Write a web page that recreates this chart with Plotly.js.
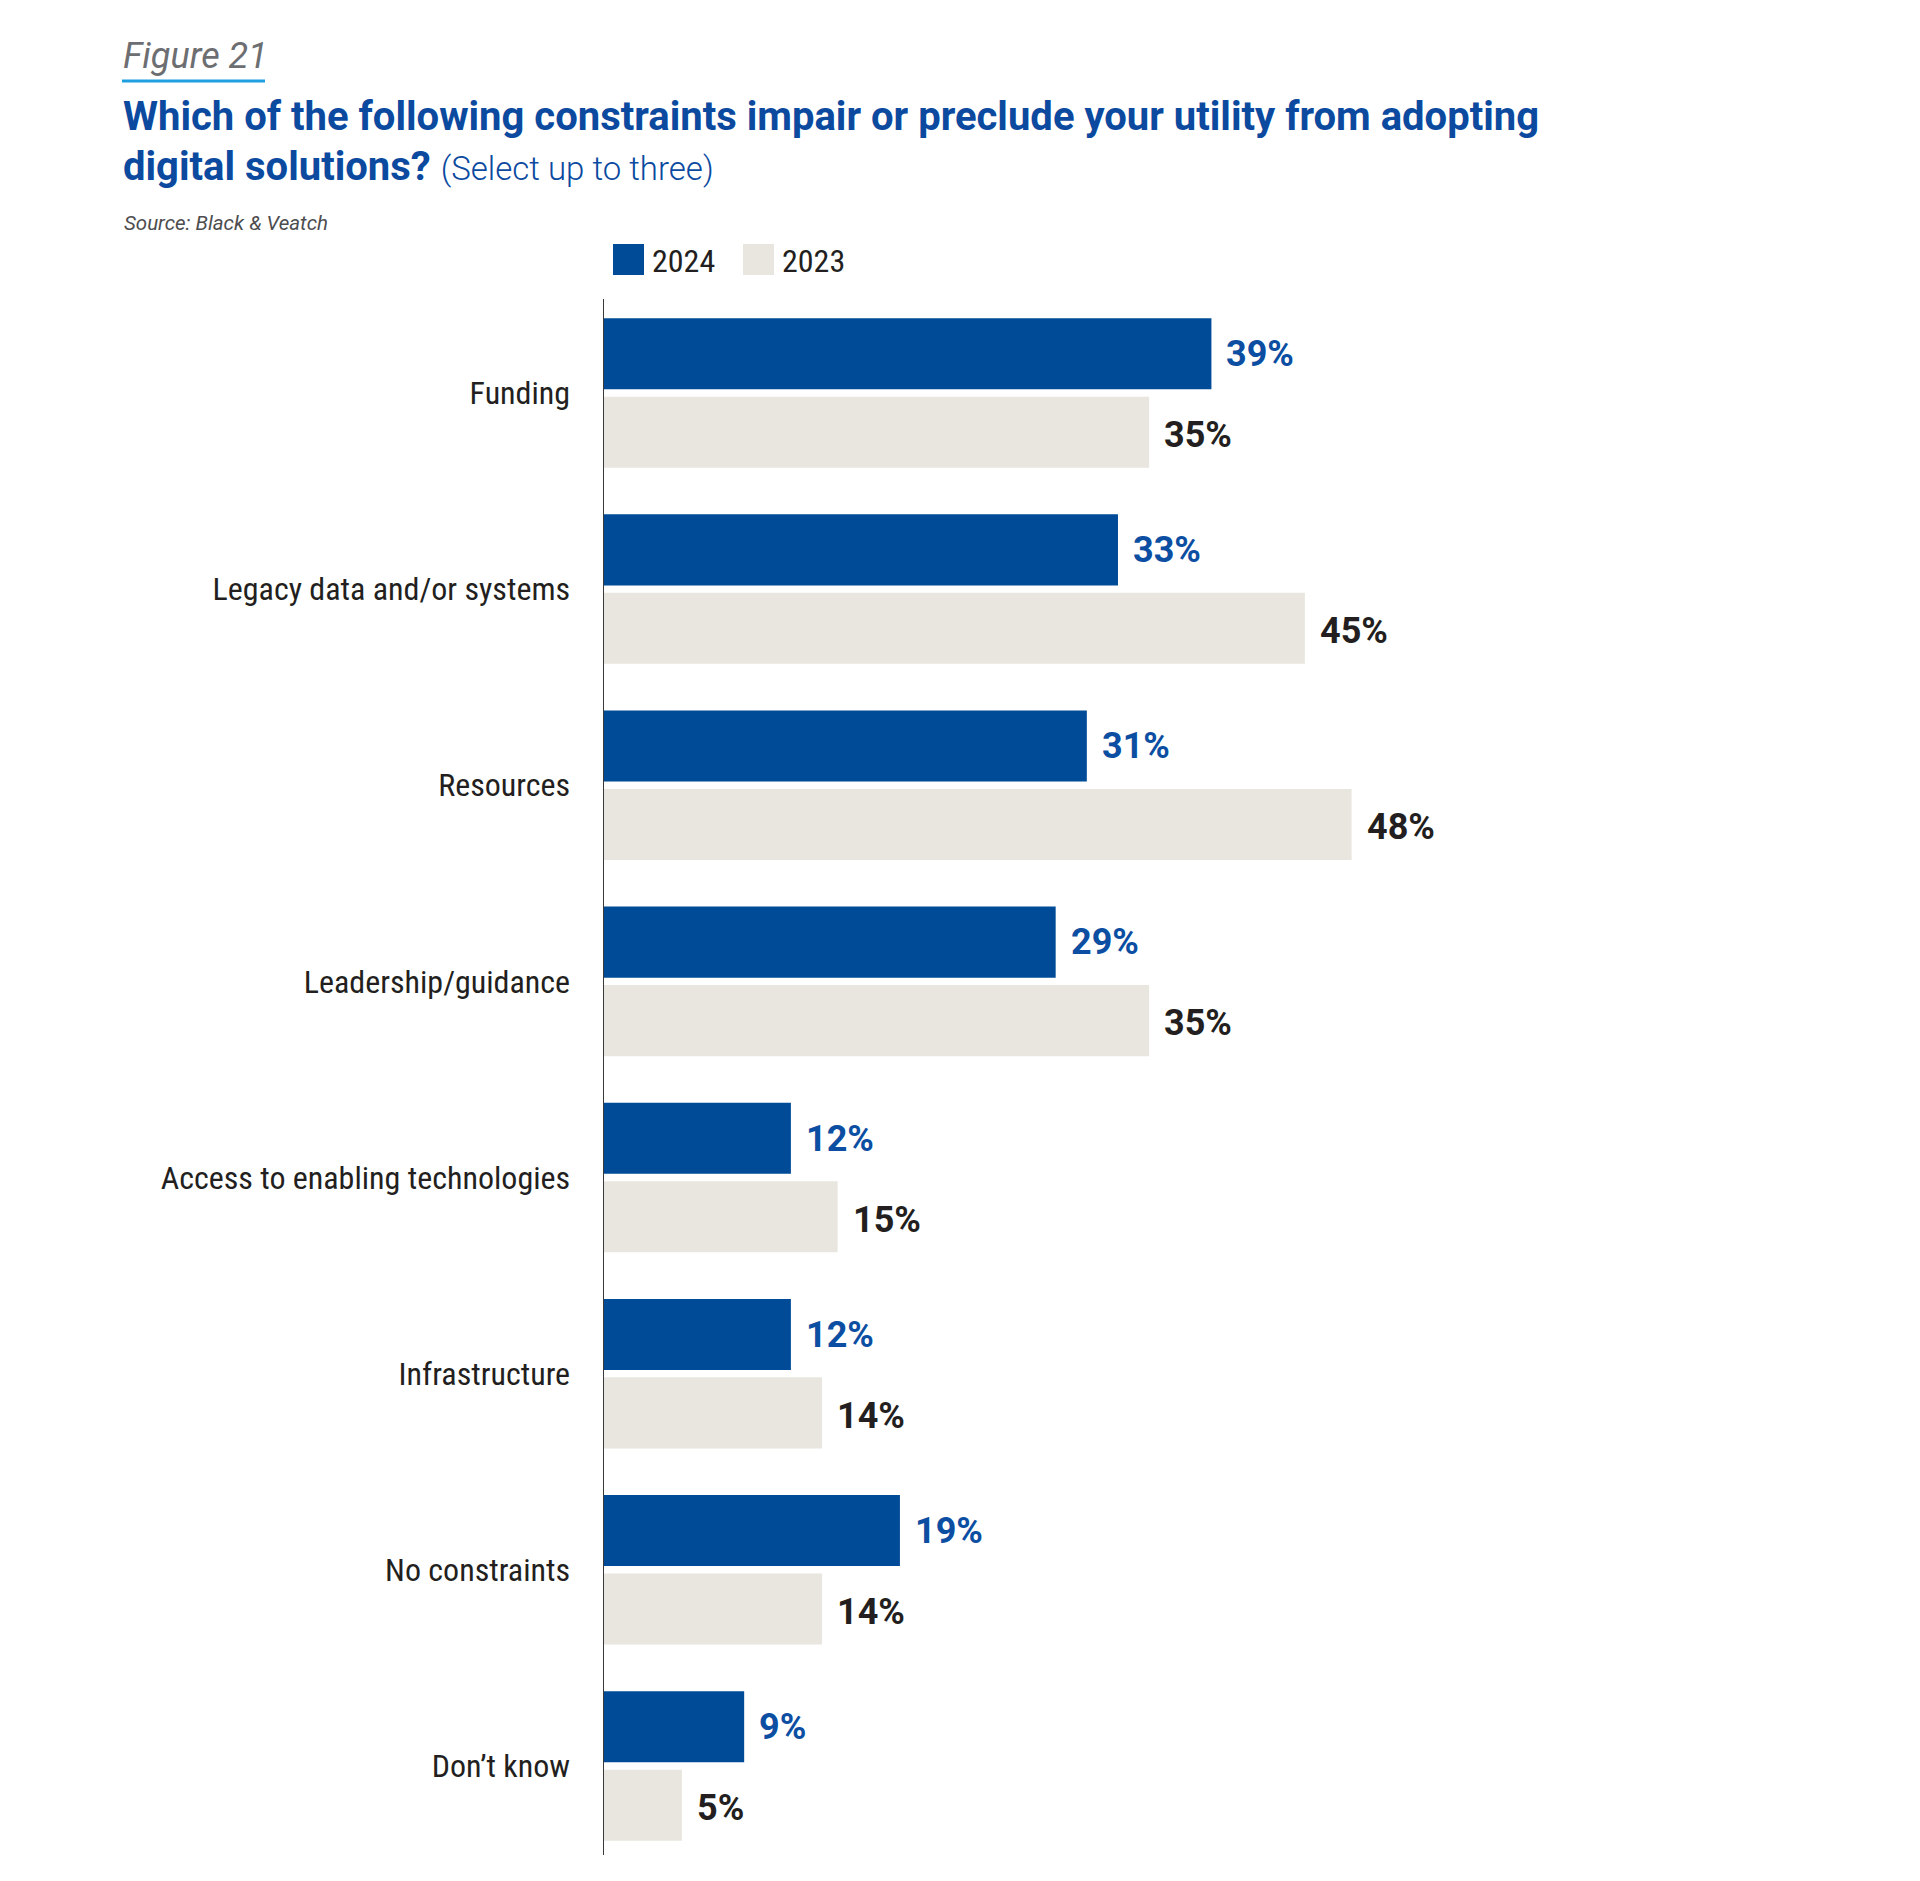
<!DOCTYPE html>
<html>
<head>
<meta charset="utf-8">
<script src="https://cdn.plot.ly/plotly-3.0.1.min.js"></script>
<style>html,body{margin:0;padding:0;background:#fff;}</style>
</head>
<body>
<div id="chart" style="width:1920px;height:1881px;"></div>
<script>
// ---- data ----
const categories = ["Funding", "Legacy data and/or systems", "Resources", "Leadership/guidance",
  "Access to enabling technologies", "Infrastructure", "No constraints", "Don’t know"];
const values2024 = [39, 33, 31, 29, 12, 12, 19, 9];
const values2023 = [35, 45, 48, 35, 15, 14, 14, 5];
const seriesNames = ["2024", "2023"];
const seriesColors = ["#004b98", "#e8e6df"];
const labelColors = ["#0b4ea2", "#231f20"];

// ---- layout geometry ----
const W = 1920, H = 1881;
const mL = 604, mR = 70, mT = 299, mB = 26;
const plotW = W - mL - mR, plotH = H - mT - mB;
const px2x = p => (p - mL) / plotW;       // pixel -> paper x
const py2y = p => 1 - (p - mT) / plotH;   // pixel -> paper y

const COND = "Roboto Condensed, Liberation Sans Narrow, Roboto, sans-serif";
const ROBO = "Roboto, sans-serif";

const traces = [values2024, values2023].map((vals, i) => ({
  type: "bar",
  orientation: "h",
  name: seriesNames[i],
  y: categories,
  x: vals,
  marker: {color: seriesColors[i], line: {width: 0}},
  hoverinfo: "skip",
  showlegend: false
}));

const annotations = [];
[values2024, values2023].forEach((vals, i) => {
  vals.forEach((v, k) => {
    annotations.push({
      x: v, y: categories[k], xref: "x", yref: "y",
      text: "<b>" + v + "%</b>", showarrow: false,
      xanchor: "left", yanchor: "middle",
      xshift: 13, yshift: i === 0 ? 39 : -42,
      font: {family: ROBO, size: 36, color: labelColors[i]}
    });
  });
});

// titles
annotations.push({
  xref: "paper", yref: "paper", x: px2x(121), y: py2y(56),
  xanchor: "left", yanchor: "middle", showarrow: false,
  text: "<i>Figure 21</i>",
  font: {family: ROBO, size: 36, color: "#6d6e71"}
});
annotations.push({
  xref: "paper", yref: "paper", x: px2x(121), y: py2y(116),
  xanchor: "left", yanchor: "middle", showarrow: false, align: "left",
  text: "<b>Which of the following constraints impair or preclude your utility from adopting</b>",
  font: {family: ROBO, size: 40, color: "#0b4a9f"}
});
annotations.push({
  xref: "paper", yref: "paper", x: px2x(121), y: py2y(167),
  xanchor: "left", yanchor: "middle", showarrow: false, align: "left",
  text: "<b>digital solutions?</b> <span style='font-size:33px;font-weight:300'>(Select up to three)</span>",
  font: {family: ROBO, size: 40, color: "#0b4a9f"}
});
annotations.push({
  xref: "paper", yref: "paper", x: px2x(122), y: py2y(223),
  xanchor: "left", yanchor: "middle", showarrow: false,
  text: "<i>Source: Black & Veatch</i>",
  font: {family: ROBO, size: 20.5, color: "#4d4d4f"}
});

// legend (drawn manually)
const legendBoxes = [[613, 644], [743, 774]];
const shapes = [];
seriesNames.forEach((n, i) => {
  shapes.push({
    type: "rect", xref: "paper", yref: "paper",
    x0: px2x(legendBoxes[i][0]), x1: px2x(legendBoxes[i][1]),
    y0: py2y(275), y1: py2y(244),
    fillcolor: seriesColors[i], line: {width: 0}
  });
  annotations.push({
    xref: "paper", yref: "paper", x: px2x(legendBoxes[i][1] + 6), y: py2y(261),
    xanchor: "left", yanchor: "middle", showarrow: false,
    text: n, font: {family: COND, size: 32, color: "#231f20"}
  });
});
// underline of "Figure 21"
shapes.push({
  type: "line", xref: "paper", yref: "paper",
  x0: px2x(122), x1: px2x(265), y0: py2y(81), y1: py2y(81),
  line: {color: "#1ea0e0", width: 3}
});

const layout = {
  width: W, height: H,
  margin: {l: mL, r: mR, t: mT, b: mB, pad: 0},
  paper_bgcolor: "#fff", plot_bgcolor: "#fff",
  barmode: "group", bargap: 0.2, bargroupgap: 0.094,
  xaxis: {range: [0, 80], visible: false, fixedrange: true},
  yaxis: {
    type: "category", range: [7.454, -0.479],
    showline: true, linecolor: "#3a3a3a", linewidth: 1.5,
    showgrid: false, zeroline: false, ticks: "",
    ticklabelstandoff: 26,
    tickfont: {family: COND, size: 32, color: "#231f20"},
    fixedrange: true
  },
  showlegend: false,
  annotations: annotations,
  shapes: shapes
};

Plotly.newPlot("chart", traces, layout, {displayModeBar: false, staticPlot: true});
</script>
</body>
</html>
